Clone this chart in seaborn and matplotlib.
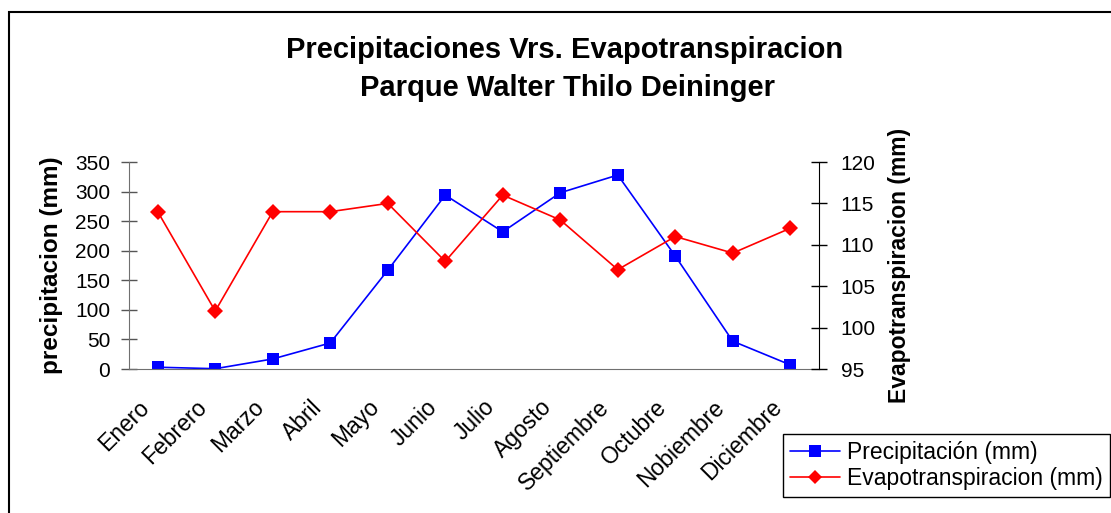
"""Precipitaciones vs evapotranspiracion chart."""

import matplotlib

matplotlib.use("Agg")
import matplotlib.pyplot as plt
import numpy as np
import pandas as pd
import seaborn as sns
from matplotlib.lines import Line2D
from matplotlib.patches import Rectangle
from matplotlib.transforms import ScaledTranslation

meses = ["Enero", "Febrero", "Marzo", "Abril", "Mayo", "Junio", "Julio",
         "Agosto", "Septiembre", "Octubre", "Nobiembre", "Diciembre"]
precipitacion = [3, 0.5, 17, 44, 167, 294, 232, 298, 328, 191, 47, 7]
evapotranspiracion = [114, 102, 114, 114, 115, 108, 116, 113, 107, 111, 109, 112]

df = pd.DataFrame({
    "mes": meses,
    "precip": precipitacion,
    "evapo": evapotranspiracion,
})

sns.set_style("white")
plt.rcParams["font.family"] = ["Liberation Sans", "DejaVu Sans"]
plt.rcParams.update({
    "text.color": "black",
    "axes.labelcolor": "black",
    "xtick.color": "black",
    "ytick.color": "black",
})

fig = plt.figure(figsize=(11.11, 5.13), dpi=100)
ax = fig.add_axes([0.1161, 0.2807, 0.6211, 0.4035])
ax2 = ax.twinx()

sns.lineplot(data=df, x="mes", y="precip", ax=ax, color="#0000ff",
             marker="s", markersize=9, markeredgewidth=0, linewidth=1.2,
             sort=False)
sns.lineplot(data=df, x="mes", y="evapo", ax=ax2, color="#ff0000",
             marker="D", markersize=8, markeredgewidth=0, linewidth=1.2,
             sort=False)

ax.set_xlim(-0.5, 11.5)
ax.set_ylim(0, 350)
ax.set_yticks(np.arange(0, 351, 50))
ax2.set_ylim(95, 120)
ax2.set_yticks(np.arange(95, 121, 5))

ax.set_xticks(range(12))
ax.set_xticks(np.arange(-0.5, 12, 1), minor=True)
ax.tick_params(axis="x", which="major", length=0, pad=25)
ax.tick_params(axis="x", which="minor", length=11, direction="inout",
               color="#555555", width=1)
ax.tick_params(axis="y", length=11, direction="inout", color="#555555",
               width=1, labelsize=15, left=True, pad=8)
ax2.tick_params(axis="y", length=11, direction="inout", color="black",
                width=1, labelsize=15, right=True, pad=10)

# labels after tick_params, otherwise the shift gets reset
ax.set_xticklabels(meses, rotation=45, ha="right", va="center",
                   rotation_mode="anchor", fontsize=16.5)
shift = ScaledTranslation(-12 / 100, 0, fig.dpi_scale_trans)
for lbl in ax.get_xticklabels():
    lbl.set_transform(lbl.get_transform() + shift)

for a in (ax, ax2):
    a.grid(False)
    a.spines["top"].set_visible(False)
ax.spines["right"].set_visible(False)
ax.spines["left"].set_color("#707070")
ax.spines["bottom"].set_color("#707070")
ax2.spines["left"].set_visible(False)
ax2.spines["bottom"].set_visible(False)
ax2.spines["right"].set_color("black")
ax.set_facecolor("none")

ax.set_xlabel("")
ax.set_ylabel("precipitacion (mm)", fontsize=17.5, fontweight="bold",
              labelpad=9)
ax2.set_ylabel("Evapotranspiracion (mm)", fontsize=16.5, fontweight="bold",
               labelpad=9)

fig.text(0.5086, 0.9025, "Precipitaciones Vrs. Evapotranspiracion",
         ha="center", va="center", fontsize=21, fontweight="bold")
fig.text(0.511, 0.8285, "Parque Walter Thilo Deininger",
         ha="center", va="center", fontsize=21, fontweight="bold")

handles = [
    Line2D([], [], color="#0000ff", marker="s", markersize=8,
           markeredgewidth=0, linewidth=1.2),
    Line2D([], [], color="#ff0000", marker="D", markersize=7,
           markeredgewidth=0, linewidth=1.2),
]
fig.legend(handles, ["Precipitación (mm)", "Evapotranspiracion (mm)"],
           loc="lower left", bbox_to_anchor=(783 / 1111, 1 - 497 / 513),
           fontsize=16.5, frameon=True, fancybox=False, edgecolor="black",
           framealpha=1, borderpad=0.3, handlelength=2.2, handletextpad=0.3,
           labelspacing=0.15, borderaxespad=0)

fig.patches.append(Rectangle((9 / 1111, -0.1), 1.2, 1.1 - 12 / 513,
                             transform=fig.transFigure, fill=False,
                             edgecolor="black", linewidth=1.5))

fig.savefig("out.png", dpi=100)
